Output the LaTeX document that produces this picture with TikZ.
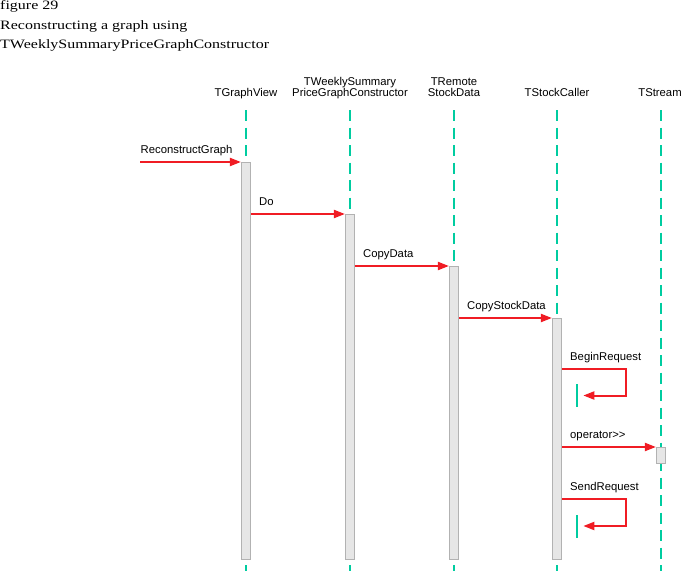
\documentclass[tikz,border=0pt]{standalone}
\usepackage{fontspec}
\setmainfont{Liberation Serif}
\newfontfamily\titlefont[FakeStretch=1.25]{Liberation Serif}
\newfontfamily\labfont{Liberation Sans}
\usetikzlibrary{arrows.meta}
\definecolor{lred}{RGB}{240,28,36}
\definecolor{lteal}{RGB}{0,204,160}
\definecolor{boxfill}{RGB}{230,230,230}
\definecolor{boxdraw}{RGB}{178,178,178}
\begin{document}
\begin{tikzpicture}[x=1pt,y=-1pt,
  life/.style={lteal, line width=2.3pt, dash pattern=on 11pt off 6.5pt},
  actbox/.style={draw=boxdraw, fill=boxfill, line width=1.2pt, minimum width=9pt, inner sep=0pt, anchor=north},
  nbar/.style={fill=lteal, draw=none, minimum width=2.3pt, inner sep=0pt},
  msg/.style={lred, line width=2pt, -{Triangle[length=11pt,width=8pt]}},
  hdr/.style={font=\labfont\fontsize{11.3}{11}\selectfont, anchor=base, inner sep=0pt},
  mlab/.style={font=\labfont\fontsize{11.3}{11}\selectfont, anchor=base west, inner sep=0pt},
  ttl/.style={font=\titlefont\fontsize{12.8}{16}\selectfont, anchor=base west, inner sep=0pt}]
\useasboundingbox (0,0) rectangle (682,571);
% title
\node[ttl] (t1) at (0,9.5) {figure 29};
\node[ttl] (t2) at (0,29) {Reconstructing a graph using};
\node[ttl] (t3) at (0,48) {TWeeklySummaryPriceGraphConstructor};
% headers
\node[hdr] (h1) at (246,96) {TGraphView};
\node[hdr] (h2a) at (350,85) {TWeeklySummary};
\node[hdr] (h2b) at (350,96) {PriceGraphConstructor};
\node[hdr] (h3a) at (454,85) {TRemote};
\node[hdr] (h3b) at (454,96) {StockData};
\node[hdr] (h4) at (557,96) {TStockCaller};
\node[hdr] (h5) at (660,96) {TStream};
% lifelines
\foreach \n/\x in {1/246,2/350,3/454,4/557,5/661}{
  \coordinate (l\n t) at (\x,110);
  \coordinate (l\n b) at (\x,571);
  \draw[life] (l\n t) -- (l\n b);
}
% activation boxes
\node[actbox, minimum height=397pt] (b1) at (246,162) {};
\node[actbox, minimum height=345pt] (b2) at (350,214) {};
\node[actbox, minimum height=293pt] (b3) at (454,266) {};
\node[actbox, minimum height=241pt] (b4) at (557,318) {};
\node[actbox, minimum height=16pt] (b5) at (661,447) {};
% nested activation bars
\node[nbar, minimum height=23pt] (sb1) at (577,395.5) {};
\node[nbar, minimum height=23pt] (sb2) at (577,526) {};
% messages
\coordinate (rg) at (140,162);
\draw[msg] (rg) -- (b1.north west);
\node[mlab] (m1) at (140.5,153.5) {ReconstructGraph};
\draw[msg] (b1.east |- b2.north) -- (b2.north west);
\node[mlab] (m2) at (259,205.5) {Do};
\draw[msg] (b2.east |- b3.north) -- (b3.north west);
\node[mlab] (m3) at (363,257.5) {CopyData};
\draw[msg] (b3.east |- b4.north) -- (b4.north west);
\node[mlab] (m4) at (467,309.5) {CopyStockData};
\coordinate (c1a) at (626,369);
\coordinate (c1b) at (626,395.5);
\draw[msg, shorten >=5pt] (b4.east |- c1a) -- (c1a) -- (c1b) -- (sb1.east |- c1b);
\node[mlab] (m5) at (570,360.5) {BeginRequest};
\draw[msg] (b4.east |- b5.north) -- (b5.north west);
\node[mlab] (m6) at (570,438.5) {operator>>};
\coordinate (c2a) at (626,499);
\coordinate (c2b) at (626,526);
\draw[msg, shorten >=5pt] (b4.east |- c2a) -- (c2a) -- (c2b) -- (sb2.east |- c2b);
\node[mlab] (m7) at (570,490.5) {SendRequest};
\end{tikzpicture}
\end{document}
